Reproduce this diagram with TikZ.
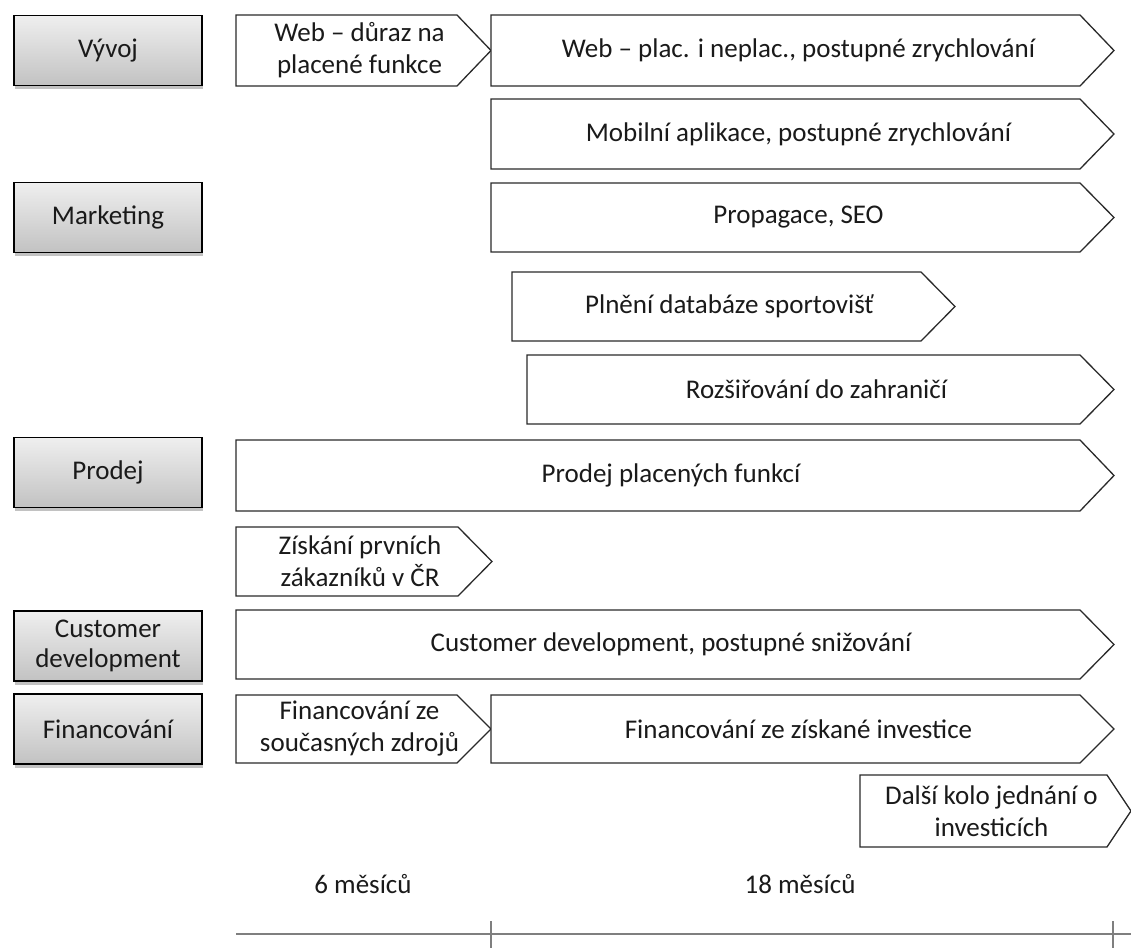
\documentclass[tikz,border=0pt]{standalone}
\usepackage{fontspec}
\setmainfont{Carlito}
\usetikzlibrary{shadows}
\definecolor{txt}{HTML}{1A1A1A}
\definecolor{edge}{HTML}{2A2A2A}
\definecolor{gtop}{HTML}{EFEFEF}
\definecolor{gbot}{HTML}{C2C2C2}
\definecolor{tl}{HTML}{7F7F7F}
\tikzset{
  cat/.style={draw=black, line width=1.6pt, top color=gtop, bottom color=gbot,
    minimum width=188pt, minimum height=70pt, inner sep=0pt, text=txt, align=center,
    font=\fontsize{27}{30}\selectfont,
    drop shadow={shadow xshift=1pt, shadow yshift=-3.5pt, opacity=0.4, fill=black!60}},
  arr/.style={draw=edge, line width=1.3pt, fill=white, line join=miter},
  lbl/.style={text=txt, align=center, inner sep=0pt, font=\fontsize{27}{32}\selectfont},
  tline/.style={draw=tl, line width=1.4pt}
}
% name, x1, y1, shoulder x, tip x, y2, text
\newcommand\chev[7]{%
  \draw[arr] (#2,#3) -- (#4,#3) -- (#5,{(#3+#6)/2}) -- (#4,#6) -- (#2,#6) -- cycle;
  \node[lbl] (#1) at ({(#2+#5)/2-4},{(#3+#6)/2}) {#7};}
\begin{document}
\begin{tikzpicture}[x=1pt,y=-1pt]
\useasboundingbox (0,0) rectangle (1131,948);
% category boxes
\node[cat] (vyvoj) at (108,50.5) {Vývoj};
\node[cat] (mkt) at (108,217.5) {Marketing};
\node[cat] (prodej) at (108,472.5) {Prodej};
\node[cat] (cd) at (108,646) {Customer\\development};
\node[cat] (fin) at (108,729) {Financování};
% chevrons
\chev{web1}{236}{15}{457}{491}{86}{Web -- důraz na\\placené funkce}
\chev{web2}{491}{15}{1080}{1114}{86}{Web -- plac. i neplac., postupné zrychlování}
\chev{mob}{491}{99}{1080}{1114}{169}{Mobilní aplikace, postupné zrychlování}
\chev{prop}{491}{183}{1080}{1114}{252}{Propagace, SEO}
\chev{pln}{512}{272}{921}{955}{341}{Plnění databáze sportovišť}
\chev{roz}{527}{355}{1080}{1114}{424}{Rozšiřování do zahraničí}
\chev{pp}{236}{440}{1080}{1114}{511}{Prodej placených funkcí}
\chev{zis}{236}{527}{458}{492}{596}{Získání prvních\\zákazníků v ČR}
\chev{cdev}{236}{610}{1080}{1114}{679}{Customer development, postupné snižování}
\chev{fin1}{236}{695}{457}{491}{763}{Financování ze\\současných zdrojů}
\chev{fin2}{491}{695}{1080}{1114}{763}{Financování ze získané investice}
\chev{dalsi}{860}{775}{1107}{1131}{847}{Další kolo jednání o\\investicích}
% timeline
\coordinate (t0) at (236,934);
\coordinate (t1) at (1131,934);
\coordinate (k1a) at (491,921);
\coordinate (k1b) at (491,948);
\coordinate (k2a) at (1113,921);
\coordinate (k2b) at (1113,948);
\draw[tline] (t0) -- (t1);
\draw[tline] (k1a) -- (k1b);
\draw[tline] (k2a) -- (k2b);
\node[lbl] (m6) at (363,884) {6 měsíců};
\node[lbl] (m18) at (800,884) {18 měsíců};
\end{tikzpicture}
\end{document}
